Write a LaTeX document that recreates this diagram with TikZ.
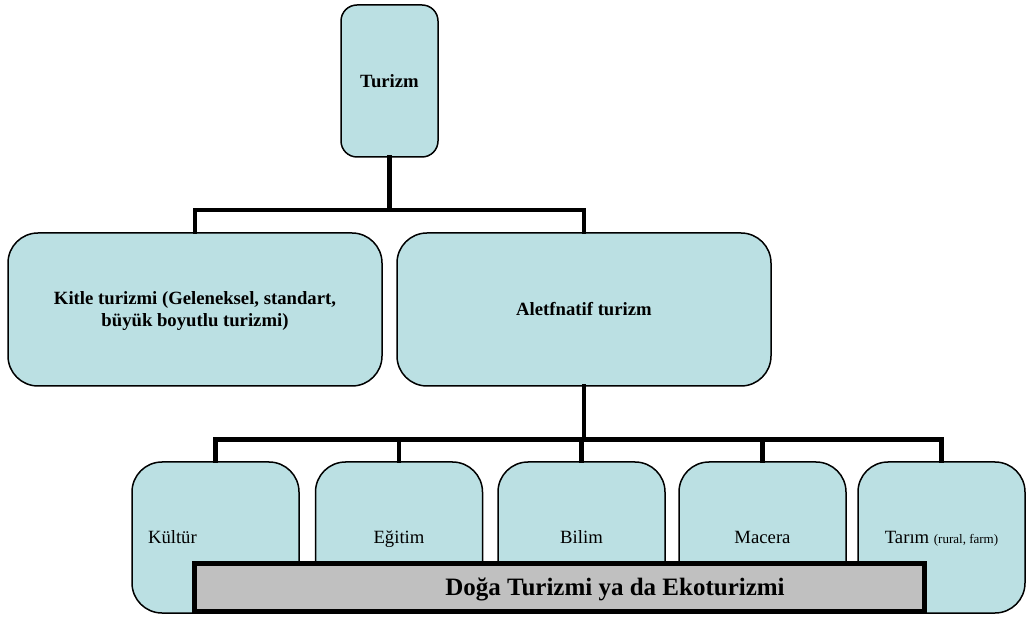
\documentclass[tikz,border=0pt]{standalone}
\usepackage{fontspec}
\setmainfont{Liberation Serif}
\definecolor{boxfill}{HTML}{BBE0E3}
\definecolor{barfill}{HTML}{C0C0C0}
\tikzset{
  box/.style={draw=black, line width=1.5pt, fill=boxfill, rounded corners=#1, inner sep=0pt, align=center},
  box/.default=30pt,
  conn/.style={draw=black, line width=4.5pt, line join=miter, line cap=rect},
  big/.style={font=\fontsize{18.7}{21.5}\selectfont},
  leaf/.style={box, big, minimum width=167pt, minimum height=151pt, text height=13pt, text depth=1pt}
}
\begin{document}
\begin{tikzpicture}[x=1pt,y=-1pt]
\useasboundingbox (0,0) rectangle (1034,617);
% nodes
\node[box=16pt, big, minimum width=97pt, minimum height=152pt] (turizm) at (389.5,81) {\bfseries Turizm};
\node[box, big, minimum width=374pt, minimum height=153pt, text depth=1pt] (kitle) at (195,309.5) {\bfseries Kitle turizmi (Geleneksel, standart,\\ \bfseries büyük boyutlu turizmi)};
\node[box, big, minimum width=374pt, minimum height=153pt] (alt) at (584,309.5) {\bfseries Aletfnatif turizm};
\node[leaf, text width=135pt, align=left] (k1) at (215.5,537.5) {Kültür};
\node[leaf] (k2) at (399,537.5) {Eğitim};
\node[leaf] (k3) at (581.5,537.5) {Bilim};
\node[leaf] (k4) at (762.5,537.5) {Macera};
\node[leaf] (k5) at (941.5,537.5) {Tarım {\fontsize{13}{15}\selectfont (rural, farm)}};
% connectors
\coordinate (j1) at (389.5,210);
\coordinate (j2) at (584,439.5);
\draw[conn] (turizm.south) -- (turizm.south |- j1);
\draw[conn] (kitle.north) |- (alt.north |- j1) -- (alt.north);
\draw[conn] (alt.south) -- (alt.south |- j2);
\draw[conn] (k1.north) |- (k5.north |- j2) -- (k5.north);
\draw[conn] (k2.north) -- (k2.north |- j2);
\draw[conn] (k3.north) -- (k3.north |- j2);
\draw[conn] (k4.north) -- (k4.north |- j2);
% eco bar
\node[draw=black, line width=5pt, fill=barfill, minimum width=730pt, minimum height=48pt, inner sep=0pt] (eco) at (559.5,587.5) {};
\node[font=\fontsize{25}{29}\selectfont\bfseries, inner sep=0pt] (ecotext) at (615,589) {Doğa Turizmi ya da Ekoturizmi};
\end{tikzpicture}
\end{document}
